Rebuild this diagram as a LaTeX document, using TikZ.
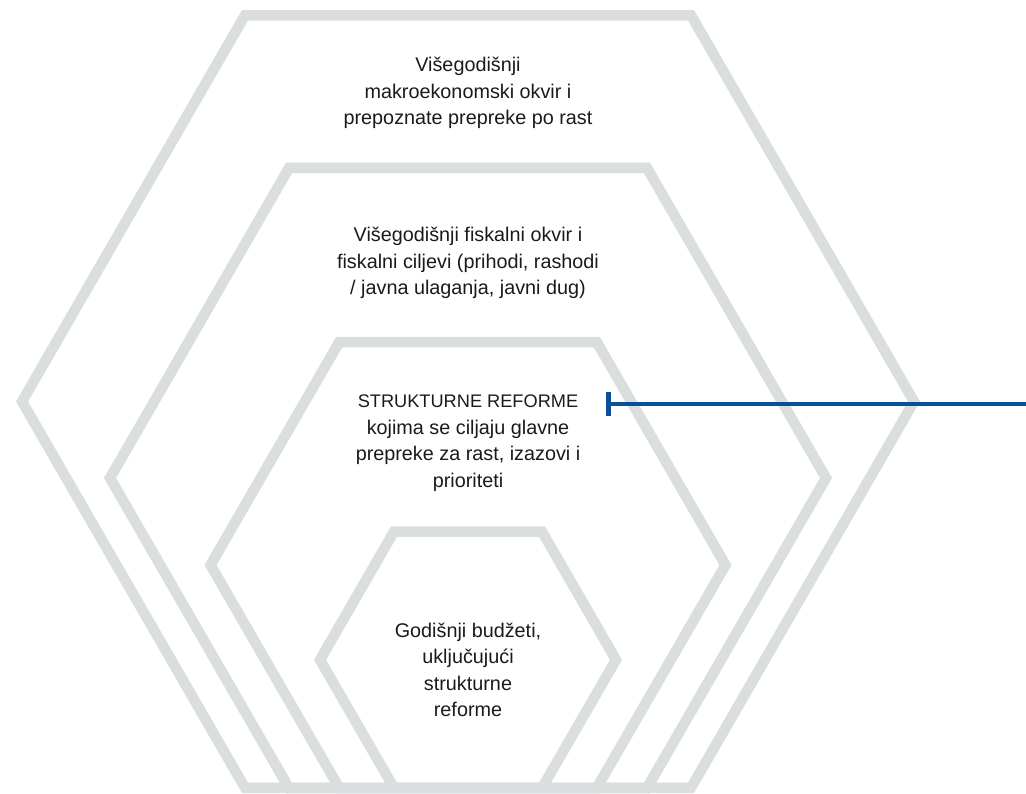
\documentclass[tikz,border=0pt]{standalone}
\usepackage{fontspec}
\setmainfont{Liberation Sans}
\usetikzlibrary{arrows.meta}
\definecolor{hexgrey}{HTML}{DBDEDF}
\definecolor{linkblue}{HTML}{0B4F97}
\definecolor{txt}{HTML}{1A1A1A}
\tikzset{
  hexline/.style={draw=hexgrey, line width=10.5pt, line join=miter},
  label/.style={align=center, text=txt, font=\fontsize{19.8}{26.5}\selectfont, inner sep=0pt},
  pointer/.style={draw=linkblue, line width=4pt, {Bar[width=24pt,line width=5pt]}-}
}
\newcommand{\hexagon}[3]{% cx, cy, R
  \draw[hexline] (#1,#2) ++(0:#3) -- ++(120:#3) -- ++(180:#3) -- ++(240:#3) -- ++(300:#3) -- ++(0:#3) -- cycle;
}
\newcommand{\capsline}[1]{{\fontsize{18.2}{26.5}\selectfont #1}}
\begin{document}
\begin{tikzpicture}[x=1pt,y=1pt]
\useasboundingbox (0,0) rectangle (1026,-793);
\hexagon{468}{-401.5}{446}
\hexagon{468}{-478}{358}
\hexagon{468}{-565}{257.5}
\hexagon{468}{-659.8}{148}
\node[label] (t1) at (468,-93) {Višegodišnji\\makroekonomski okvir i\\prepoznate prepreke po rast};
\node[label] (t2) at (468,-263) {Višegodišnji fiskalni okvir i\\fiskalni ciljevi (prihodi, rashodi\\/ javna ulaganja, javni dug)};
\node[label] (t3) at (468,-443) {\capsline{STRUKTURNE REFORME}\\kojima se ciljaju glavne\\prepreke za rast, izazovi i\\prioriteti};
\node[label] (t4) at (468,-670) {Godišnji budžeti,\\uključujući\\strukturne\\reforme};
\coordinate (tick) at (606,-404);
\coordinate (edge) at (1026,-404);
\draw[pointer] (tick) -- (edge);
\end{tikzpicture}
\end{document}
